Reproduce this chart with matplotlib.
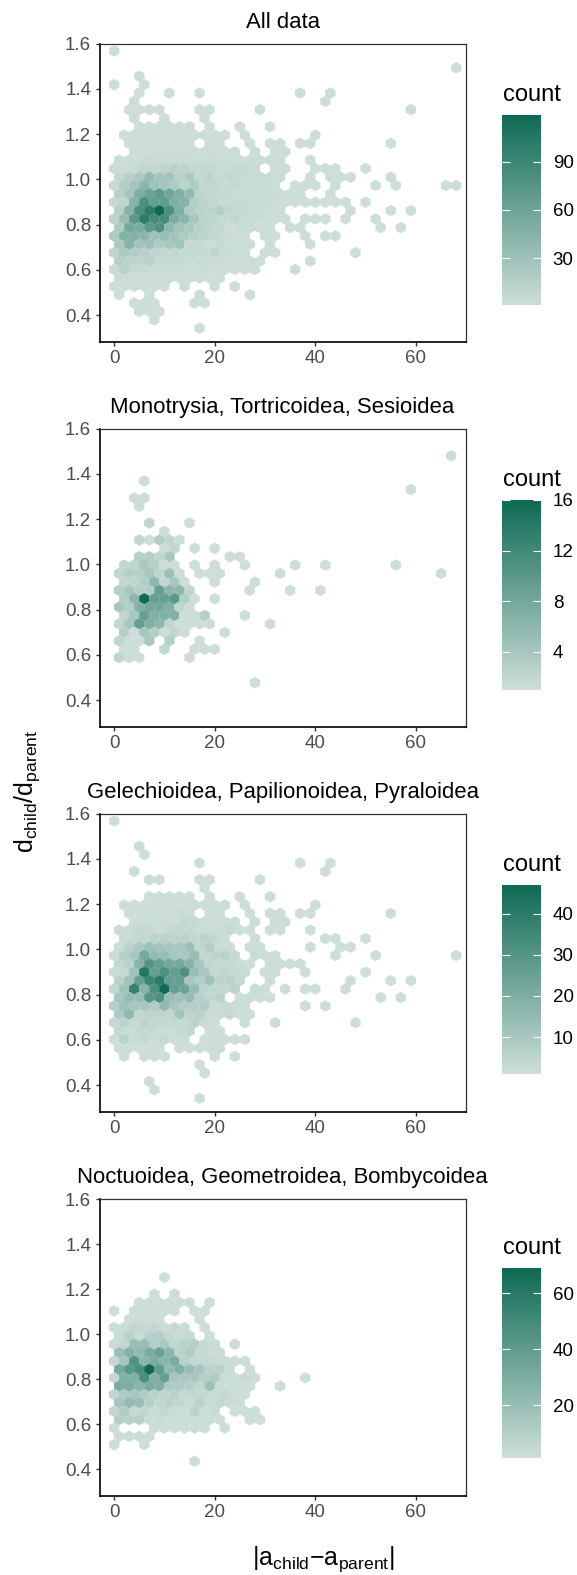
import matplotlib
matplotlib.use('Agg')
import matplotlib.pyplot as plt
from matplotlib.cm import ScalarMappable
from matplotlib.collections import PolyCollection
from matplotlib.colors import LinearSegmentedColormap, Normalize

plt.rcParams['font.family'] = ['Liberation Sans', 'DejaVu Sans']
plt.rcParams['mathtext.fontset'] = 'custom'
plt.rcParams['mathtext.rm'] = 'Liberation Sans'
plt.rcParams['mathtext.default'] = 'regular'

titles = ['All data', 'Monotrysia, Tortricoidea, Sesioidea',
          'Gelechioidea, Papilionoidea, Pyraloidea', 'Noctuoidea, Geometroidea, Bombycoidea']
bar_max = [119, 16, 47, 69]
bar_ticks = [[30, 60, 90], [4, 8, 12, 16], [10, 20, 30, 40], [20, 40, 60]]
x_ticks = [0, 20, 40, 60]
y_ticks = [0.4, 0.6, 0.8, 1.0, 1.2, 1.4, 1.6]

# every row of hexagons: its y, the x of its first hexagon, then the counts going right in steps of 2 (0 = empty)
all_y = [1.568, 1.493, 1.456, 1.419, 1.382, 1.345, 1.308, 1.270, 1.233, 1.196, 1.159, 1.122, 1.085, 1.048, 1.010,
         0.973, 0.936, 0.899, 0.862, 0.825, 0.787, 0.750, 0.713, 0.676, 0.639, 0.602, 0.564, 0.527, 0.490, 0.453,
         0.416, 0.379, 0.342]
all_x0 = [0, 68, 5, 0, 5, 4, 3, 4, 5, 2, 3, 4, 1, 0, 1, 0, 1, 0, 1, 0, 1, 0, 1, 0, 1, 0, 1, 0, 1, 4, 5, 8, 17]
all_n = [
    [1],
    [1],
    [2],
    [1, 0, 0, 1],
    [1, 0, 0, 1, 0, 0, 1] + [0] * 9 + [1, 0, 0, 1],
    [1] + [0] * 18 + [1],
    [1, 1, 1, 1, 0, 0, 0, 1, 1] + [0] * 4 + [1] + [0] * 14 + [1],
    [2, 0, 0, 1, 0, 0, 0, 1],
    [1, 1, 1, 2, 1, 2, 0, 1, 0, 0, 1, 0, 0, 1],
    [1, 2, 2, 2, 2, 2, 2, 2, 2, 1, 1, 0, 1] + [0] * 6 + [1],
    [1, 2, 2, 2, 2, 2, 2, 0, 2, 1, 0, 0, 1, 0, 1, 1, 0, 1, 1] + [0] * 7 + [1],
    [2, 2, 3, 3, 3, 3, 3, 3, 3, 3, 2, 0, 1, 0, 1, 1],
    [2, 3, 3, 5, 5, 4, 4, 4, 3, 4, 3, 3, 2, 3, 2, 2, 1, 0, 0, 1],
    [3, 3, 5, 10, 8, 10, 14, 12, 8, 8, 6, 5, 5, 6, 4, 0, 2, 2, 0, 0, 1, 1, 1, 0, 0, 1],
    [8, 15, 22, 35, 25, 28, 15, 22, 8, 12, 6, 8, 6, 5, 5, 4, 3, 0, 0, 1, 0, 1, 1, 1, 0, 0, 0, 1],
    [5, 18, 26, 42, 30, 27, 20, 12, 20, 8, 8, 5, 7, 4, 4, 4, 2, 0, 1, 1, 1, 0, 1, 0, 0, 0, 1, 0, 1] + [0] * 4 + [1, 1],
    [14, 25, 50, 62, 68, 58, 48, 38, 12, 8, 6, 6, 5, 4, 3, 3, 2, 1, 1, 0, 0, 1],
    [6, 10, 45, 80, 65, 68, 50, 45, 18, 12, 8, 5, 5, 6, 5, 4, 3, 2, 1, 1, 1, 1, 1, 1, 0, 1],
    [16, 45, 80, 100, 119, 80, 50, 20, 14, 12, 18, 8, 6, 5, 4, 3, 2] + [0] * 6 + [1, 0, 0, 0, 1, 0, 1],
    [12, 35, 72, 100, 85, 85, 50, 42, 25, 12, 10, 6, 8, 5, 4, 3, 2, 1, 0, 1, 1, 1, 0, 1, 0, 0, 1],
    [20, 55, 52, 72, 80, 40, 30, 22, 14, 10, 8, 2, 4, 3, 2, 1, 0, 1, 1] + [0] * 7 + [1, 0, 1],
    [22, 45, 45, 42, 30, 35, 28, 20, 16, 12, 8, 4, 3, 2, 0, 1, 1, 0, 0, 1, 0, 1, 1],
    [22, 45, 28, 32, 20, 24, 30, 5, 6, 2, 5, 3, 3, 2, 0, 1, 0, 0, 0, 1],
    [10, 22, 18, 14, 10, 8, 7, 6, 6, 5, 9, 4, 3, 2, 0, 1, 1] + [0] * 7 + [1],
    [16, 12, 10, 14, 6, 6, 5, 5, 4, 4, 3, 3, 2, 2, 1, 0, 0, 0, 0, 1],
    [4, 14, 6, 6, 5, 4, 4, 3, 3, 3, 2, 2, 1, 1, 1, 0, 0, 0, 1],
    [3, 3, 3, 3, 3, 2, 2, 2, 2, 1, 1],
    [1, 1, 2, 2, 1, 1, 0, 1, 0, 0, 1, 0, 1],
    [1, 0, 0, 1, 0, 0, 0, 0, 1, 0, 0, 0, 0, 1],
    [1, 1, 1, 0, 0, 0, 1, 1],
    [1, 1, 1],
    [1],
    [1],
]

mono_y = [1.480, 1.369, 1.331, 1.294, 1.257, 1.183, 1.146, 1.108, 1.071, 1.034, 0.997, 0.960, 0.922, 0.885, 0.848,
          0.811, 0.774, 0.737, 0.699, 0.662, 0.625, 0.588, 0.477]
mono_x0 = [67, 6, 59, 4, 5, 7, 10, 5, 10, 5, 2, 1, 2, 1, 2, 1, 2, 1, 2, 1, 2, 1, 28]
mono_n = [
    [1],
    [1],
    [1],
    [1, 1],
    [1],
    [2, 0, 0, 0, 1],
    [1],
    [2, 1, 3, 2, 1],
    [1, 2, 0, 1, 0, 1],
    [3, 3, 2, 4] + [0] * 5 + [1, 1],
    [2, 2, 4, 3, 1, 1, 0, 1, 0, 1, 0, 0, 1] + [0] * 4 + [1, 0, 0, 1] + [0] * 6 + [1],
    [2, 3, 3, 4, 2, 5, 1, 0, 1, 1, 1] + [0] * 5 + [1] + [0] * 15 + [1],
    [2, 2, 3, 6, 2, 4, 1, 0, 0, 1, 0, 0, 0, 1],
    [3, 4, 3, 3, 9, 6, 6, 2] + [0] * 5 + [1, 0, 0, 0, 1, 0, 0, 1],
    [3, 6, 16, 9, 9, 10, 3, 1, 0, 1],
    [4, 3, 7, 8, 8, 7, 2, 1],
    [2, 4, 9, 7, 7, 7, 1, 1, 3, 0, 0, 0, 1],
    [2, 4, 9, 7, 6, 2, 1, 1, 1, 1] + [0] * 5 + [1],
    [3, 1, 4, 3, 1, 2, 1, 0, 0, 0, 1],
    [2, 1, 1, 4, 0, 3, 0, 0, 1],
    [1, 1, 0, 0, 2, 0, 0, 1, 1, 1],
    [2, 1, 1, 0, 0, 0, 0, 1],
    [1],
]

gele_y = [1.568, 1.456, 1.419, 1.382, 1.345, 1.308, 1.270, 1.233, 1.196, 1.159, 1.122, 1.085, 1.048, 1.010, 0.973,
          0.936, 0.899, 0.862, 0.825, 0.787, 0.750, 0.713, 0.676, 0.639, 0.602, 0.564, 0.527, 0.453, 0.416, 0.379,
          0.342, 0.490]
gele_x0 = [0, 5, 6, 17, 4, 7, 18, 7, 2, 3, 4, 1, 2, 1, 0, 1, 0, 1, 0, 1, 0, 1, 0, 1, 0, 1, 2, 18, 7, 8, 17, 17]
gele_n = [
    [1],
    [2],
    [1],
    [1] + [0] * 9 + [1, 0, 0, 1],
    [1] + [0] * 18 + [1],
    [1, 1, 0, 0, 0, 1, 1] + [0] * 4 + [1],
    [1],
    [1, 1, 1, 1, 1, 0, 1, 0, 0, 1, 0, 0, 1],
    [1, 1, 1, 1, 1, 1, 1, 2, 1, 1, 2, 0, 1] + [0] * 6 + [1],
    [1, 1, 2, 2, 1, 2, 2, 0, 1, 1, 0, 0, 1, 0, 1, 1, 0, 1, 1] + [0] * 7 + [1],
    [1, 2, 2, 2, 2, 4, 3, 2, 2, 2, 2, 0, 1, 0, 1, 1],
    [2, 2, 4, 3, 2, 3, 4, 3, 2, 2, 2, 3, 1, 1, 0, 1, 1, 0, 0, 1],
    [2, 3, 4, 5, 6, 5, 6, 4, 5, 4, 2, 0, 0, 1] + [0] * 6 + [1, 1, 0, 0, 1],
    [2, 6, 9, 12, 11, 10, 10, 13, 4, 7, 2, 2, 0, 1, 1, 0, 0, 0, 0, 1, 0, 0, 1, 1],
    [2, 7, 10, 22, 15, 14, 10, 10, 14, 4, 5, 6, 3, 0, 2, 1, 1] + [0] * 5 + [1, 0, 0, 0, 1] + [0] * 7 + [1],
    [3, 6, 18, 30, 26, 22, 22, 18, 10, 4, 3, 3, 2, 1, 0, 1, 1, 1, 1],
    [2, 3, 12, 42, 26, 32, 26, 32, 14, 10, 3, 4, 3, 2, 0, 1, 1, 0, 0, 1] + [0] * 5 + [1],
    [6, 12, 26, 36, 40, 26, 26, 10, 7, 12, 5, 6, 3, 0, 0, 1] + [0] * 7 + [1, 0, 0, 0, 1, 0, 1],
    [4, 12, 38, 18, 32, 47, 26, 24, 14, 5, 4, 3, 5, 0, 2, 1, 0, 1, 0, 1, 1, 0, 0, 1],
    [10, 15, 14, 30, 32, 14, 12, 15, 7, 4, 6, 0, 1, 1, 1, 1] + [0] * 10 + [1, 0, 1],
    [7, 12, 10, 10, 8, 16, 10, 8, 7, 8, 2, 3, 2, 1] + [0] * 5 + [1, 0, 1],
    [9, 16, 4, 5, 5, 4, 11, 5, 6, 2, 2, 3, 1, 1],
    [3, 5, 3, 5, 4, 3, 3, 3, 5, 2, 1, 0, 0, 1, 0, 0, 1] + [0] * 7 + [1],
    [3, 2, 3, 3, 2, 2, 3, 4, 0, 1, 1],
    [1, 6, 2, 3, 2, 3, 1, 2, 0, 1, 2, 1, 1, 1],
    [1, 1, 1, 1, 1, 0, 1, 1, 1, 1, 2],
    [1, 0, 1, 1, 1, 0, 0, 0, 0, 1, 0, 1],
    [1],
    [1],
    [1],
    [1],
    [1],
]

noct_y = [1.252, 1.178, 1.140, 1.103, 1.066, 1.029, 0.992, 0.955, 0.918, 0.880, 0.843, 0.806, 0.769, 0.732, 0.695,
          0.657, 0.620, 0.583, 0.546, 0.509, 0.435]
noct_x0 = [10, 8, 5, 0, 3, 0, 1, 0, 1, 0, 1, 0, 1, 0, 1, 0, 1, 0, 1, 0, 16]
noct_n = [
    [1],
    [1, 0, 1],
    [1, 1, 1, 1, 1, 1, 0, 1],
    [1, 0, 1, 1, 1, 1, 1, 0, 1, 1],
    [1, 2, 2, 1, 0, 0, 0, 1],
    [2, 2, 6, 4, 5, 2, 4, 3, 0, 1],
    [3, 8, 3, 9, 10, 4, 3, 4, 0, 1],
    [3, 5, 20, 20, 10, 14, 6, 8, 10, 4, 3, 0, 1],
    [20, 27, 22, 30, 36, 25, 8, 12, 4, 3, 3],
    [5, 16, 45, 25, 30, 25, 30, 8, 6, 4, 4, 3, 2, 2],
    [32, 42, 48, 69, 40, 22, 28, 20, 15, 8, 8, 3, 0, 1],
    [4, 28, 28, 48, 28, 38, 15, 14, 14, 9, 12, 3, 2, 3, 1, 0, 0, 0, 0, 1],
    [30, 30, 25, 30, 28, 12, 12, 10, 6, 18, 3, 1, 2, 1, 0, 0, 1],
    [6, 12, 15, 12, 8, 6, 8, 4, 5, 4, 3, 4, 2, 1],
    [16, 22, 20, 10, 5, 8, 6, 3, 8, 3, 4, 3, 2],
    [5, 12, 4, 6, 3, 6, 3, 2, 8, 2, 3, 0, 1, 1, 1],
    [10, 8, 9, 2, 3, 2, 2, 2, 2, 2, 1, 0, 0, 1, 1],
    [1, 0, 0, 0, 2, 2, 2, 2, 2, 1, 0, 1],
    [1, 1, 2, 1],
    [1, 0, 0, 1],
    [1],
]

panel_y = [all_y, mono_y, gele_y, noct_y]
panel_x0 = [all_x0, mono_x0, gele_x0, noct_x0]
panel_n = [all_n, mono_n, gele_n, noct_n]

W, H = 577, 1575
panel_top = [43.7, 428.7, 813.7, 1199]
panel_bottom = [342, 727, 1112, 1496]
bar_top = [115, 500, 885, 1268.4]
bar_bottom = [305, 690, 1074, 1458]
title_y = [95, 480, 865, 1248]

hex_w = 1.0
hex_h = 0.02477
cmap = LinearSegmentedColormap.from_list('count', ['#CDDEDA', '#0E6A54'])


def hexagon(x, y):
    return [(x - hex_w, y - hex_h / 2), (x - hex_w, y + hex_h / 2), (x, y + hex_h),
            (x + hex_w, y + hex_h / 2), (x + hex_w, y - hex_h / 2), (x, y - hex_h)]


fig = plt.figure(figsize=(W / 100, H / 100), dpi=100)

for i in range(4):
    ax = fig.add_axes([99.5 / W, 1 - panel_bottom[i] / H, 366.2 / W, (panel_bottom[i] - panel_top[i]) / H])
    norm = Normalize(1, bar_max[i])

    verts, counts = [], []
    for y, x0, row in zip(panel_y[i], panel_x0[i], panel_n[i]):
        for j, n in enumerate(row):
            if n > 0:
                verts.append(hexagon(x0 + 2 * j, y))
                counts.append(n)
    ax.add_collection(PolyCollection(verts, array=counts, cmap=cmap, norm=norm, edgecolors='face', linewidths=0.15))

    ax.set_xlim(-2.9, 69.9)
    ax.set_ylim(0.281, 1.6)
    ax.set_xticks(x_ticks)
    ax.set_yticks(y_ticks)
    ax.set_yticklabels(['%.1f' % t for t in y_ticks])
    ax.tick_params(length=3, width=1, color='#333333', labelcolor='#4D4D4D', labelsize=13.5, pad=3)
    for side in ['left', 'bottom']:
        ax.spines[side].set_linewidth(1.2)
        ax.spines[side].set_color('black')
    for side in ['top', 'right']:
        ax.spines[side].set_linewidth(0.9)
        ax.spines[side].set_color('#333333')
    ax.set_title(titles[i], fontsize=15.9, pad=11.5)

    cax = fig.add_axes([502 / W, 1 - bar_bottom[i] / H, 39 / W, (bar_bottom[i] - bar_top[i]) / H])
    cbar = fig.colorbar(ScalarMappable(norm=norm, cmap=cmap), cax=cax)
    cbar.outline.set_visible(False)
    cbar.set_ticks(bar_ticks[i])
    cax.tick_params(length=0, labelsize=13.5, pad=8.5)
    cax.hlines(bar_ticks[i], 0, 0.2, color='white', lw=0.8)
    cax.hlines(bar_ticks[i], 0.8, 1, color='white', lw=0.8)

    fig.text(502.5 / W, 1 - title_y[i] / H, 'count', fontsize=17, va='center', ha='left')

fig.text(27 / W, 1 - 791 / H, r'$d_{child}/d_{parent}$', fontsize=18, rotation=90, va='center', ha='center')
fig.text(323 / W, 1 - 1559 / H, r'$|a_{child}{-}a_{parent}|$', fontsize=18, va='center', ha='center')

fig.savefig('out.png', dpi=100)
